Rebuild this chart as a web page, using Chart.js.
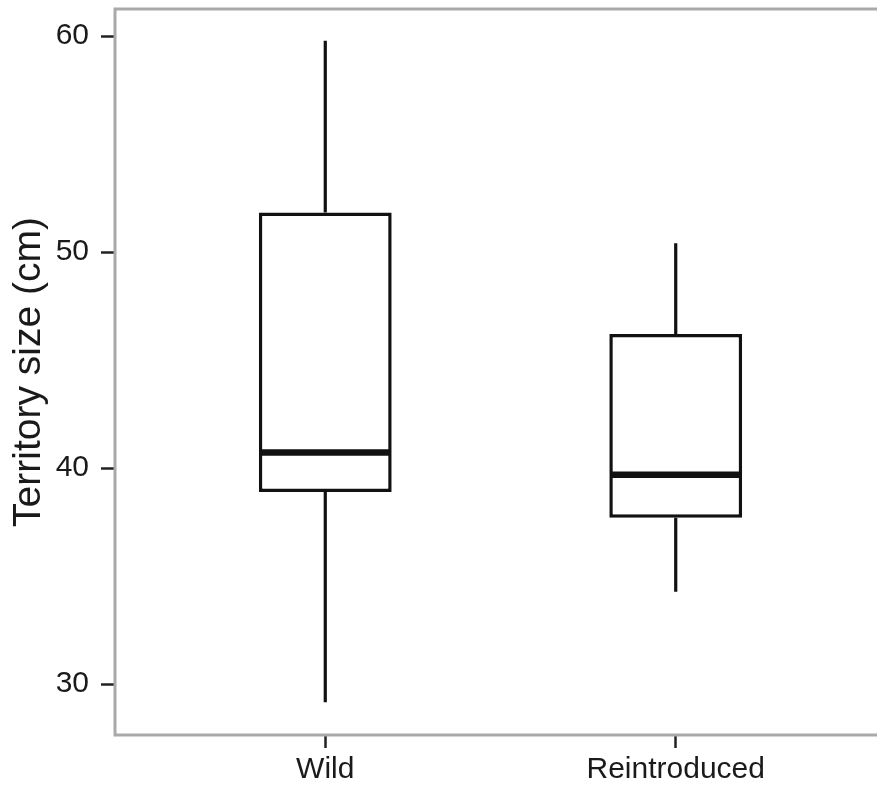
<!DOCTYPE html>
<html lang="en">
  <head>
    <meta charset="UTF-8" />
    <title>Territory size box plot</title>
    <script src="https://cdn.jsdelivr.net/npm/chart.js"></script>
    <style>
      html, body { margin: 0; padding: 0; background: #fff; overflow: hidden; }
      #wrap { width: 877px; height: 788px; overflow: hidden; }
    </style>
  </head>
  <body>
    <div id="wrap">
      <canvas id="boxChart" width="890" height="788"></canvas>
    </div>

    <script>
      // data
      const groups = ["Wild", "Reintroduced"];
      const whiskerLow = [29.17, 34.28];
      const q1 = [38.9, 37.71];
      const median = [40.72, 39.69];
      const q3 = [51.83, 46.21];
      const whiskerHigh = [59.78, 50.41];
      const yTicks = [30, 40, 50, 60];

      const FONT = "'Liberation Sans', Arial, Helvetica, sans-serif";
      const INK = "#111";

      // whiskers, medians and the panel border
      const boxPlotExtras = {
        id: "boxPlotExtras",
        beforeDatasetsDraw(chart) {
          const { ctx, chartArea } = chart;
          ctx.save();
          ctx.strokeStyle = "#a9a9a9";
          ctx.lineWidth = 3;
          ctx.strokeRect(chartArea.left, chartArea.top,
            chartArea.right - chartArea.left, chartArea.bottom - chartArea.top);
          ctx.restore();
        },
        afterDatasetsDraw(chart) {
          const { ctx } = chart;
          const x = chart.scales.x;
          const y = chart.scales.y;
          const bars = chart.getDatasetMeta(0).data;
          ctx.save();
          ctx.strokeStyle = INK;
          ctx.lineCap = "butt";
          groups.forEach((g, i) => {
            const px = x.getPixelForValue(i + 1);
            ctx.lineWidth = 3.2;
            ctx.beginPath();
            ctx.moveTo(px, y.getPixelForValue(q3[i]));
            ctx.lineTo(px, y.getPixelForValue(whiskerHigh[i]));
            ctx.moveTo(px, y.getPixelForValue(q1[i]));
            ctx.lineTo(px, y.getPixelForValue(whiskerLow[i]));
            ctx.stroke();

            const half = bars[i].width / 2;
            ctx.lineWidth = 6.5;
            ctx.beginPath();
            ctx.moveTo(px - half + 1, y.getPixelForValue(median[i]));
            ctx.lineTo(px + half - 1, y.getPixelForValue(median[i]));
            ctx.stroke();
          });
          ctx.restore();
        },
      };

      const boxChart = new Chart(document.getElementById("boxChart"), {
        type: "bar",
        data: {
          datasets: [
            {
              label: "Territory size",
              data: groups.map((g, i) => ({ x: i + 1, y: [q1[i], q3[i]] })),
              backgroundColor: "#fff",
              borderColor: INK,
              borderWidth: 3.5,
              borderSkipped: false,
              barPercentage: 0.379,
              categoryPercentage: 1,
            },
          ],
        },
        options: {
          responsive: false,
          animation: false,
          layout: { padding: { top: 9, right: 4, left: 0, bottom: 0 } },
          scales: {
            x: {
              type: "linear",
              min: 0.4,
              max: 2.6,
              offset: false,
              afterBuildTicks: (axis) => {
                axis.ticks = groups.map((g, i) => ({ value: i + 1 }));
              },
              afterFit: (axis) => {
                axis.height = 53;
                axis.paddingLeft = 0;
                axis.paddingRight = 0;
              },
              grid: {
                offset: false,
                drawOnChartArea: false,
                tickLength: 13,
                tickColor: "#222",
                tickWidth: 2.5,
              },
              border: { display: false },
              ticks: {
                autoSkip: false,
                maxRotation: 0,
                padding: 4,
                color: "#1a1a1a",
                font: { family: FONT, size: 30 },
                callback: (v) => groups[v - 1] || "",
              },
            },
            y: {
              min: 27.65,
              max: 61.25,
              afterBuildTicks: (axis) => {
                axis.ticks = yTicks.map((v) => ({ value: v }));
              },
              afterFit: (axis) => {
                axis.width = 115;
                axis.paddingTop = 0;
                axis.paddingBottom = 0;
              },
              grid: {
                drawOnChartArea: false,
                tickLength: 14,
                tickColor: "#222",
                tickWidth: 2.5,
              },
              border: { display: false },
              ticks: {
                padding: 12,
                color: "#1a1a1a",
                font: { family: FONT, size: 30 },
              },
              title: {
                display: true,
                text: "Territory size (cm)",
                color: "#1a1a1a",
                font: { family: FONT, size: 39 },
                padding: { top: 6, bottom: 0 },
              },
            },
          },
          plugins: {
            legend: { display: false },
            tooltip: { enabled: false },
          },
        },
        plugins: [boxPlotExtras],
      });
    </script>
  </body>
</html>
